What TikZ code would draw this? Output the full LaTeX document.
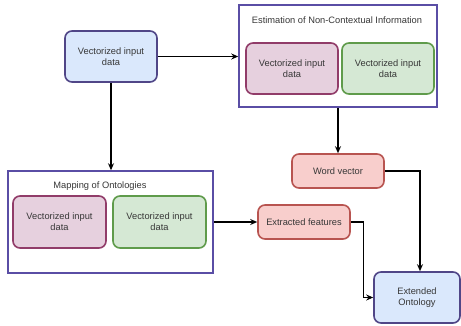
\documentclass[tikz,border=0pt]{standalone}
\usepackage{fontspec}
\setmainfont{Liberation Sans}
\usetikzlibrary{arrows.meta}
\definecolor{bluefill}{HTML}{DAE8FC}
\definecolor{blueedge}{RGB}{80,70,135}
\definecolor{contedge}{RGB}{90,78,165}
\definecolor{pinkfill}{HTML}{E6D0DE}
\definecolor{pinkedge}{RGB}{145,60,105}
\definecolor{greenfill}{HTML}{D5E8D4}
\definecolor{greenedge}{RGB}{95,155,75}
\definecolor{redfill}{HTML}{F8CECC}
\definecolor{rededge}{HTML}{B85450}
\definecolor{txt}{RGB}{55,55,55}
\tikzset{
  x=1pt, y=-1pt,
  every node/.style={font=\fontsize{9.3}{11}\selectfont, text=txt, align=center, inner sep=0pt},
  boxbase/.style={rectangle, rounded corners=7pt, line width=1.6pt, minimum width=92pt, minimum height=51pt},
  bluebox/.style={boxbase, draw=blueedge, fill=bluefill},
  pinkbox/.style={boxbase, draw=pinkedge, fill=pinkfill},
  greenbox/.style={boxbase, draw=greenedge, fill=greenfill},
  redbox/.style={boxbase, draw=rededge, fill=redfill, minimum height=34pt},
  container/.style={rectangle, draw=contedge, line width=1.5pt, fill=white},
  conn/.style={draw=black, line width=1.2pt, -{Stealth[length=7pt,width=6pt]}}
}
\begin{document}
\begin{tikzpicture}
\useasboundingbox (0,0) rectangle (461,325);
% containers
\node[container, minimum width=198pt, minimum height=102pt] (est) at (338,56) {};
\node (esttitle) at (337,20) {Estimation of Non-Contextual Information};
\node[pinkbox] (estpink) at (292,68.5) {Vectorized input\\data};
\node[greenbox] (estgreen) at (388,68.5) {Vectorized input\\data};

\node[container, minimum width=205pt, minimum height=102pt] (map) at (110.5,222) {};
\node (maptitle) at (100,186) {Mapping of Ontologies};
\node[pinkbox, minimum width=93pt, minimum height=52pt] (mappink) at (59.5,222) {Vectorized input\\data};
\node[greenbox, minimum width=93pt, minimum height=52pt] (mapgreen) at (159.5,222) {Vectorized input\\data};

% boxes
\node[bluebox] (in) at (111,56.5) {Vectorized input\\data};
\node[redbox] (word) at (338,171) {Word vector};
\node[redbox] (feat) at (304,222) {Extracted features};
\node[bluebox, minimum width=86pt] (ext) at (417,297.5) {Extended\\Ontology};

% connectors
\draw[conn] (in.east) -- (in.east -| est.west);
\draw[conn] (in.south) -- (in.south |- map.north);
\draw[conn] (est.south) -- (word.north);
\draw[conn] (map.east) -- (map.east -| feat.west);
\draw[conn] (word.east) -| ([xshift=3pt]ext.north);
\draw[conn] (feat.east) -- ++(13,0) |- (ext.west);
\end{tikzpicture}
\end{document}
